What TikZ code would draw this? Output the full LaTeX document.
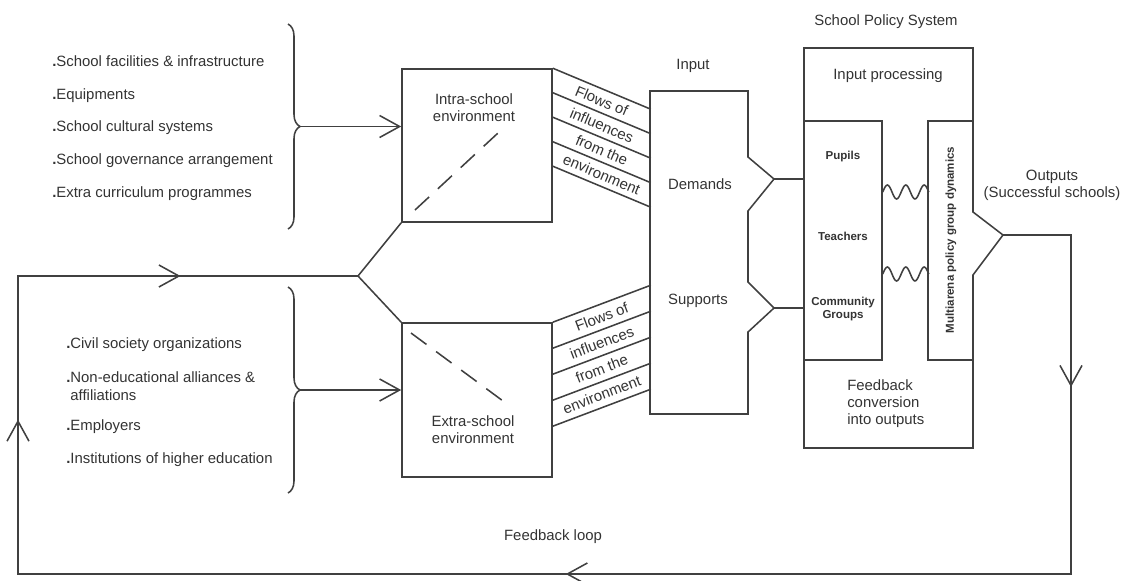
\documentclass[tikz,border=0pt]{standalone}
\usepackage{fontspec}
\setmainfont{Liberation Sans}
\usetikzlibrary{arrows.meta,positioning,calc,decorations.pathreplacing,decorations.markings}

\begin{document}
\begin{tikzpicture}[x=0.025cm,y=-0.025cm,>={Straight Barb[length=0.5cm,width=0.55cm]},
  ln/.style={draw=black!75,line width=1.1pt},
  envbox/.style={ln,inner sep=0pt},
  txt/.style={text=black!80,font=\fontsize{10.6}{12}\selectfont,align=center,inner sep=0pt},
  bld/.style={text=black!80,font=\bfseries\fontsize{8.2}{9.5}\selectfont,align=center,inner sep=0pt},
  item/.style={text=black!80,font=\fontsize{10.6}{12.8}\selectfont,anchor=base west,align=left,inner sep=0pt},
  curly/.style={ln,decorate,decoration={brace,amplitude=0.3cm}},
  dashline/.style={ln,dash pattern=on 0.48cm off 0.3cm},
  loopmarks/.style={postaction={decorate},decoration={markings,
    mark=at position 5.5cm with {\arrow{>}},
    mark=at position 22.8cm with {\arrow{>}},
    mark=at position 40.35cm with {\arrow{>}},
    mark=at position 48cm with {\arrow{>}}}}]
\useasboundingbox (0,0) rectangle (1125,580);

%% environment lists
\node[item] (u1) at (52,66) {\textbf{.}School facilities \& infrastructure};
\node[item] (u2) at (52,99) {\textbf{.}Equipments};
\node[item] (u3) at (52,131) {\textbf{.}School cultural systems};
\node[item] (u4) at (52,164) {\textbf{.}School governance arrangement};
\node[item] (u5) at (52,197) {\textbf{.}Extra curriculum programmes};
\node[item] (l1) at (66,348) {\textbf{.}Civil society organizations};
\node[item] (l2) at (66,400) {\textbf{.}Non-educational alliances \&\\\phantom{\textbf{.}}affiliations};
\node[item] (l3) at (66,430) {\textbf{.}Employers};
\node[item] (l4) at (66,463) {\textbf{.}Institutions of higher education};
\draw[curly] (288,24) -- (288,229);
\draw[curly] (288,287) -- (288,493);
\coordinate (ubt) at (300,126.5);
\coordinate (lbt) at (300,390);

%% environment boxes
\node[envbox,minimum width=3.75cm,minimum height=3.825cm] (intra) at (477,145.5) {};
\node[envbox,minimum width=3.75cm,minimum height=3.85cm] (extra) at (477,400) {};
\node[txt] (intlab) at (474,108) {Intra-school\\environment};
\node[txt] (extlab) at (473,430) {Extra-school\\environment};
\draw[dashline] ($(intra.center)+(-62,64.5)$) -- ($(intra.center)+(21,-12.5)$);
\draw[dashline] ($(extra.center)+(-66,-67)$) -- ($(extra.center)+(26,1)$);
\draw[ln,->] (ubt) -- (ubt -| intra.west);
\draw[ln,->] (lbt) -- (lbt -| extra.west);

%% flows of influences
\foreach \k in {0,...,4} {
  \draw[ln] (intra.north east) ++(0,24.5*\k) -- ++(98,41);
  \draw[ln] (extra.north east) ++(0,26*\k) -- ++(98,-37);
}
\path (intra.north east) ++(0,12.25) -- ++(98,41) node[txt,midway,sloped] (uf1) {Flows of};
\path (intra.north east) ++(0,36.75) -- ++(98,41) node[txt,midway,sloped] (uf2) {influences};
\path (intra.north east) ++(0,61.25) -- ++(98,41) node[txt,midway,sloped] (uf3) {from the};
\path (intra.north east) ++(0,85.75) -- ++(98,41) node[txt,midway,sloped] (uf4) {environment};
\path (extra.north east) ++(0,13) -- ++(98,-37) node[txt,midway,sloped] (lf1) {Flows of};
\path (extra.north east) ++(0,39) -- ++(98,-37) node[txt,midway,sloped] (lf2) {influences};
\path (extra.north east) ++(0,65) -- ++(98,-37) node[txt,midway,sloped] (lf3) {from the};
\path (extra.north east) ++(0,91) -- ++(98,-37) node[txt,midway,sloped] (lf4) {environment};

%% input
\coordinate (dtip) at (774,179);
\coordinate (stip) at (774,308);
\draw[ln] (650,91) -- (748,91) -- (748,157) -- (dtip) -- (748,211) -- (748,282) -- (stip) -- (748,332) -- (748,414) -- (650,414) -- cycle;
\node[txt] (inlab) at (693,66) {Input};
\node[txt] (dem) at (700,184) {Demands};
\node[txt] (sup) at (698,301) {Supports};

%% school policy system
\coordinate (otip) at (1003,235);
\draw[ln] (804,48) -- (973,48) -- (973,212) -- (otip) -- (973,275) -- (973,448) -- (804,448) -- cycle;
\node[envbox,minimum width=1.95cm,minimum height=5.975cm] (actors) at (843,240.5) {};
\draw[ln] (973,121) -- (928,121) -- (928,360) -- (973,360);
\node[txt] (sps) at (886,22) {School Policy System};
\node[txt] (ipro) at (888,76) {Input processing};
\node[bld] (pup) at (843,157) {Pupils};
\node[bld] (tea) at (843,236) {Teachers};
\node[bld] (com) at (843,309) {Community\\Groups};
\node[bld,rotate=90] (mad) at (951,240) {Multiarena policy group dynamics};
\node[txt,align=left,anchor=west] (fbc) at (847,404) {Feedback\\conversion\\into outputs};
\node[txt] (outp) at (1052,185) {Outputs\\(Successful schools)};
\draw[ln] (dtip) -- (dtip -| actors.west);
\draw[ln] (stip) -- (stip -| actors.west);
%% wavy links
\foreach \wy in {192,274} {
  \draw[ln] (actors.east |- 0,\wy) sin ++(4.6,-7) cos ++(4.6,7) sin ++(4.6,7) cos ++(4.6,-7)
    sin ++(4.6,-7) cos ++(4.6,7) sin ++(4.6,7) cos ++(4.6,-7) sin ++(4.6,-7) cos ++(4.6,7);
}

%% feedback loop
\coordinate (fork) at (358,276);
\coordinate (lne) at (1071,235);
\coordinate (lse) at (1071,574);
\coordinate (lsw) at (18,574);
\coordinate (lnw) at (18,276);
\draw[ln] (intra.south west) -- (fork) -- (extra.north west);
\draw[ln,loopmarks] (otip) -- (lne) -- (lse) -- (lsw) -- (lnw) -- (fork);
\node[txt] (fbl) at (553,537) {Feedback loop};
\end{tikzpicture}
\end{document}
